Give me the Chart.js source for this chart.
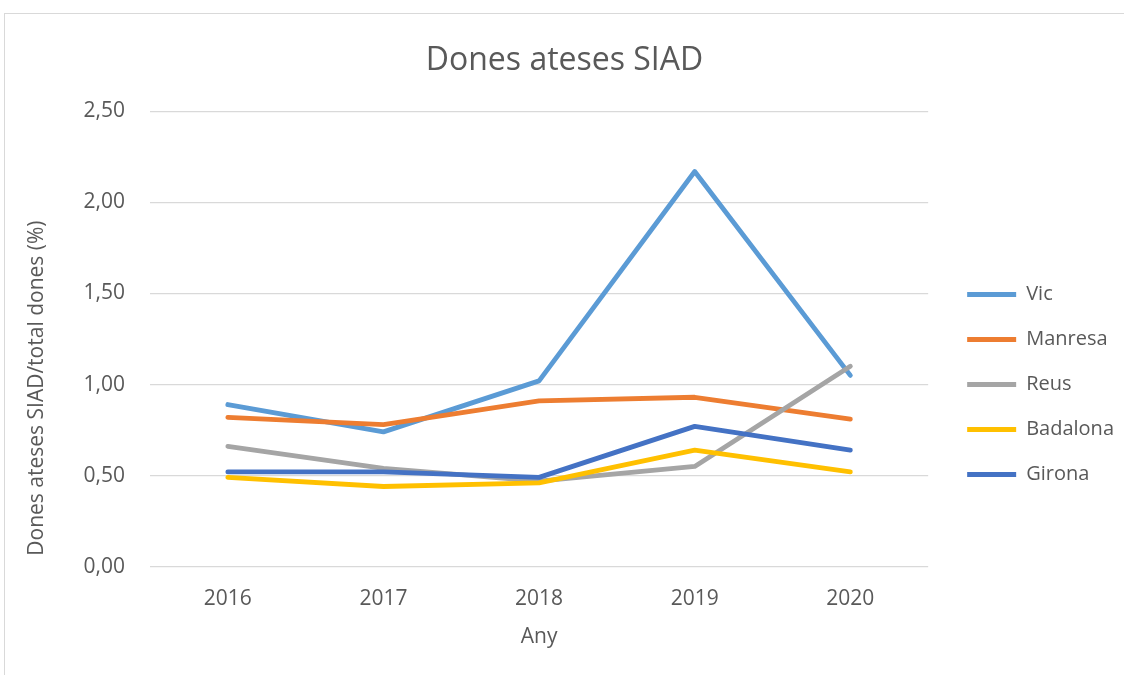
<!DOCTYPE html>
<html>
<head>
<meta charset="utf-8">
<script src="https://cdn.jsdelivr.net/npm/chart.js@4.4.0/dist/chart.umd.min.js"></script>
<style>
    html, body { margin: 0; padding: 0; background: #fff; overflow: hidden; }
    #frame {
        position: absolute;
        left: 4px;
        top: 13px;
        width: 1119px;
        height: 662px;
        border-top: 1px solid #d9d9d9;
        border-left: 1px solid #d9d9d9;
    }
</style>
</head>
<body>
<div id="frame"><canvas id="chart"></canvas></div>
<script>
    const years = ['2016', '2017', '2018', '2019', '2020'];
    const vic = [0.89, 0.74, 1.02, 2.17, 1.05];
    const manresa = [0.82, 0.78, 0.91, 0.93, 0.81];
    const reus = [0.66, 0.54, 0.47, 0.55, 1.10];
    const badalona = [0.49, 0.44, 0.46, 0.64, 0.52];
    const girona = [0.52, 0.52, 0.49, 0.77, 0.64];
    const yTicks = [0, 0.5, 1, 1.5, 2, 2.5];

    const textColor = '#595959';
    const fontFamily = '"Open Sans", sans-serif';

    function makeSeries(label, data, color, order) {
        return {
            label,
            data,
            borderColor: color,
            backgroundColor: color,
            borderWidth: 4.8,
            borderCapStyle: 'round',
            borderJoinStyle: 'round',
            pointRadius: 0,
            tension: 0,
            order
        };
    }

    new Chart(document.getElementById('chart'), {
        type: 'line',
        data: {
            labels: years,
            datasets: [
                makeSeries('Vic', vic, '#5B9BD5', 5),
                makeSeries('Manresa', manresa, '#ED7D31', 4),
                makeSeries('Reus', reus, '#A5A5A5', 3),
                makeSeries('Badalona', badalona, '#FFC000', 2),
                makeSeries('Girona', girona, '#4472C4', 1)
            ]
        },
        options: {
            responsive: true,
            maintainAspectRatio: false,
            animation: false,
            layout: { padding: { top: 0, right: 0, bottom: 7, left: 0 } },
            plugins: {
                tooltip: { enabled: false },
                title: {
                    display: true,
                    text: 'Dones ateses SIAD',
                    color: textColor,
                    font: { family: fontFamily, size: 32, weight: 'normal' },
                    padding: { top: 28, bottom: 31 }
                },
                legend: {
                    position: 'right',
                    reverse: true,
                    title: {
                        display: true,
                        text: ' ',
                        font: { family: fontFamily, size: 20 },
                        padding: { top: 0, bottom: 62 }
                    },
                    labels: {
                        color: textColor,
                        font: { family: fontFamily, size: 20 },
                        usePointStyle: true,
                        pointStyle: 'line',
                        pointStyleWidth: 49,
                        padding: 25
                    }
                }
            },
            scales: {
                x: {
                    offset: true,
                    grid: { display: false },
                    border: { display: false },
                    ticks: {
                        color: textColor,
                        font: { family: fontFamily, size: 21 },
                        padding: 11.5,
                        maxRotation: 0
                    },
                    title: {
                        display: true,
                        text: 'Any',
                        color: textColor,
                        font: { family: fontFamily, size: 21 },
                        padding: { top: 2, bottom: 19 }
                    }
                },
                y: {
                    min: 0,
                    max: 2.5,
                    afterBuildTicks: scale => {
                        scale.ticks = yTicks.map(value => ({ value }));
                    },
                    afterFit: scale => { scale.width = 145; },
                    grid: { color: '#d9d9d9', lineWidth: 1.3, drawTicks: false },
                    border: { display: false },
                    ticks: {
                        color: textColor,
                        font: { family: fontFamily, size: 21 },
                        padding: 25,
                        callback: value => Number(value).toFixed(2).replace('.', ',')
                    },
                    title: {
                        display: true,
                        align: 'start',
                        text: '  Dones ateses SIAD/total dones (%)',
                        color: textColor,
                        font: { family: fontFamily, size: 21 },
                        padding: { top: 19, bottom: 0 }
                    }
                },
                spacer: {
                    type: 'linear',
                    position: 'right',
                    grid: { display: false },
                    border: { display: false },
                    ticks: { display: false },
                    afterFit: scale => { scale.width = 14; }
                }
            }
        }
    });
</script>
</body>
</html>
